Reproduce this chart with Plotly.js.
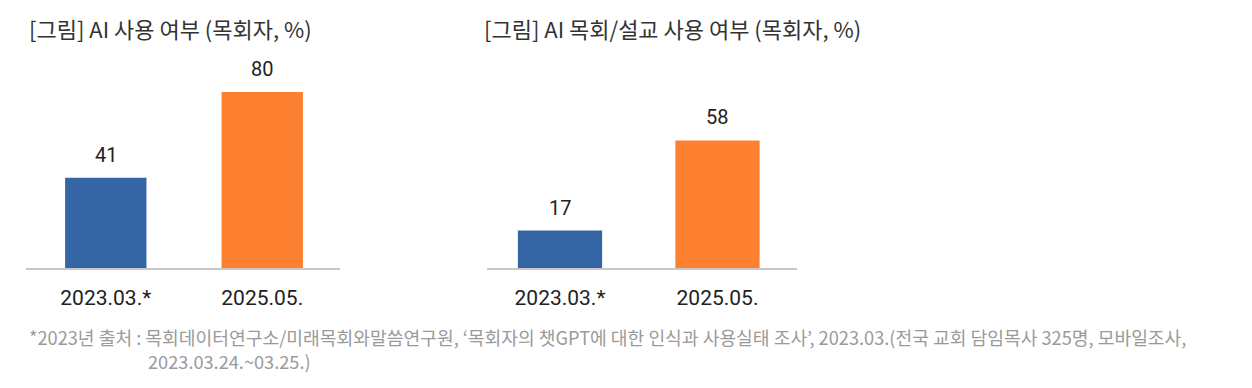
<!DOCTYPE html>
<html>
<head>
<meta charset="utf-8">
<script src="https://cdn.plot.ly/plotly-3.0.1.min.js"></script>
<style>
html,body{margin:0;padding:0;background:#fff;}
#chart{width:1252px;height:388px;}
</style>
</head>
<body>
<div id="chart"></div>
<script>
// ---- data ----
const categories = ["2023.03.*", "2025.05."];
const aiUseValues = [41, 80];
const aiSermonValues = [17, 58];
const barColors = ["#3465A4", "#FD7F30"];
const titleLeft = "[그림] AI 사용 여부 (목회자, %)";
const titleRight = "[그림] AI 목회/설교 사용 여부 (목회자, %)";
const footLine1 = "*2023년 출처 : 목회데이터연구소/미래목회와말씀연구원, ‘목회자의 챗GPT에 대한 인식과 사용실태 조사’, 2023.03.(전국 교회 담임목사 325명, 모바일조사,";
const footLine2 = "2023.03.24.~03.25.)";

// ---- layout helpers ----
const W = 1252, H = 388;
const px = v => v / W;
const py = v => 1 - v / H;
const FONT = "Roboto, 'Noto Sans CJK KR', sans-serif";
const KFONT = "'Noto Sans CJK KR', sans-serif";

const traces = [
  {type: "bar", x: categories, y: aiUseValues, xaxis: "x", yaxis: "y", width: 0.52,
   marker: {color: barColors}, hoverinfo: "none"},
  {type: "bar", x: categories, y: aiSermonValues, xaxis: "x2", yaxis: "y2", width: 0.535,
   marker: {color: barColors}, hoverinfo: "none"}
];

const xCommon = {
  type: "category", showline: true, linecolor: "#c8c8c8", linewidth: 1.5,
  showgrid: false, zeroline: false, ticks: "", ticklabelstandoff: 10,
  tickfont: {family: FONT, size: 21, color: "#222"}, fixedrange: true
};
const yCommon = {
  range: [0, 90], visible: false, showgrid: false, zeroline: false, fixedrange: true
};

const annotations = [];
categories.forEach((c, i) => {
  annotations.push({xref: "x", yref: "y", x: c, y: aiUseValues[i], text: String(aiUseValues[i]),
    showarrow: false, yanchor: "bottom", yshift: 9, font: {family: FONT, size: 20, color: "#222"}});
  annotations.push({xref: "x2", yref: "y2", x: c, y: aiSermonValues[i], text: String(aiSermonValues[i]),
    showarrow: false, yanchor: "bottom", yshift: 9, font: {family: FONT, size: 20, color: "#222"}});
});
annotations.push({xref: "paper", yref: "paper", x: px(27), y: py(28), xanchor: "left", yanchor: "middle",
  text: titleLeft, showarrow: false, font: {family: KFONT, size: 22, color: "#333"}});
annotations.push({xref: "paper", yref: "paper", x: px(482), y: py(28), xanchor: "left", yanchor: "middle",
  text: titleRight, showarrow: false, font: {family: KFONT, size: 22, color: "#333"}});
annotations.push({xref: "paper", yref: "paper", x: px(27), y: py(337), xanchor: "left", yanchor: "middle",
  text: footLine1, showarrow: false, font: {family: KFONT, size: 18.2, color: "#9a9a9a"}});
annotations.push({xref: "paper", yref: "paper", x: px(146), y: py(361), xanchor: "left", yanchor: "middle",
  text: footLine2, showarrow: false, font: {family: KFONT, size: 18.2, color: "#9a9a9a"}});

const layout = {
  width: W, height: H,
  margin: {l: 0, r: 0, t: 0, b: 0, pad: 0},
  paper_bgcolor: "#fff", plot_bgcolor: "#fff",
  showlegend: false,
  xaxis: Object.assign({}, xCommon, {domain: [px(26), px(340)], anchor: "y", range: [-0.51, 1.497]}),
  yaxis: Object.assign({}, yCommon, {domain: [py(268), py(70)], anchor: "x"}),
  xaxis2: Object.assign({}, xCommon, {domain: [px(487), px(797)], anchor: "y2", range: [-0.4635, 1.505]}),
  yaxis2: Object.assign({}, yCommon, {domain: [py(268), py(70)], anchor: "x2"}),
  annotations: annotations
};

Plotly.newPlot("chart", traces, layout, {displayModeBar: false, staticPlot: true});
</script>
</body>
</html>
